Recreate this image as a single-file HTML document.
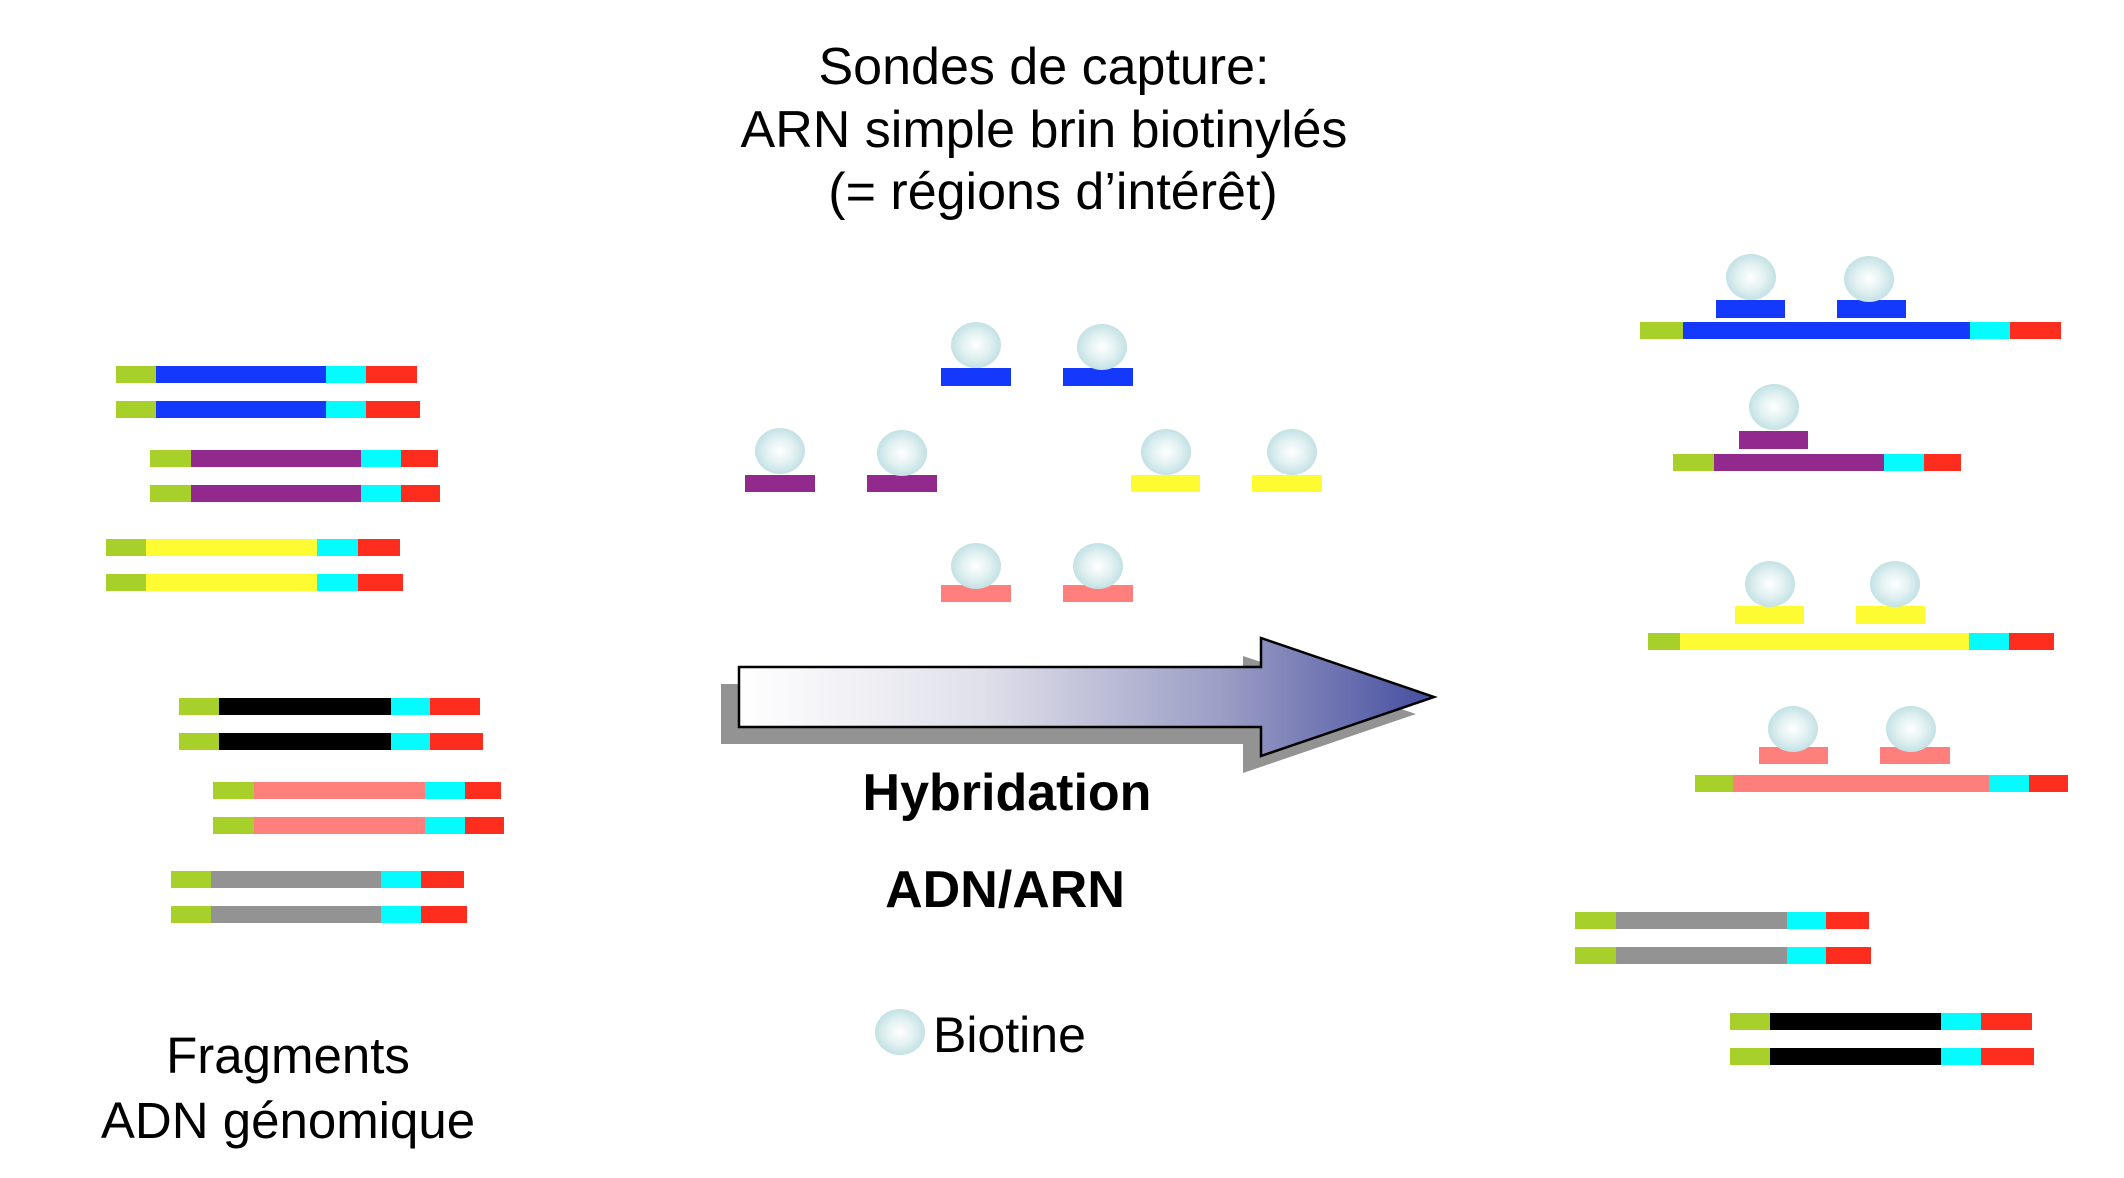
<!DOCTYPE html>
<html><head><meta charset="utf-8"><style>
html,body{margin:0;padding:0;background:#fff;}
svg{display:block;}
text{font-family:"Liberation Sans",Arial,sans-serif;fill:#000;}
</style></head><body>
<svg width="2124" height="1178" viewBox="0 0 2124 1178" xmlns="http://www.w3.org/2000/svg">
<defs>
<radialGradient id="bio" cx="50%" cy="50%" r="50%">
<stop offset="0" stop-color="#ffffff"/>
<stop offset="0.55" stop-color="#e2f1f2"/>
<stop offset="1" stop-color="#c3e1e4"/>
</radialGradient>
<linearGradient id="arr" x1="739" y1="0" x2="1434" y2="0" gradientUnits="userSpaceOnUse">
<stop offset="0" stop-color="#ffffff"/>
<stop offset="0.35" stop-color="#e0e0ea"/>
<stop offset="0.7" stop-color="#9a9cc4"/>
<stop offset="1" stop-color="#454ea0"/>
</linearGradient>
</defs>

<text x="1044" y="84" font-size="52" text-anchor="middle">Sondes de capture:</text>
<text x="1044" y="147" font-size="52" text-anchor="middle">ARN simple brin biotinylés</text>
<text x="1053" y="209" font-size="52" text-anchor="middle">(= régions d’intérêt)</text>

<g>
<rect x="116" y="366" width="40" height="17" fill="#a8d02a"/><rect x="156" y="366" width="170" height="17" fill="#1538fd"/><rect x="326" y="366" width="40" height="17" fill="#05fbfd"/><rect x="366" y="366" width="51" height="17" fill="#ff2d1e"/>
<rect x="116" y="401" width="40" height="17" fill="#a8d02a"/><rect x="156" y="401" width="170" height="17" fill="#1538fd"/><rect x="326" y="401" width="40" height="17" fill="#05fbfd"/><rect x="366" y="401" width="54" height="17" fill="#ff2d1e"/>

<rect x="150" y="450" width="41" height="17" fill="#a8d02a"/><rect x="191" y="450" width="170" height="17" fill="#922a8e"/><rect x="361" y="450" width="40" height="17" fill="#05fbfd"/><rect x="401" y="450" width="37" height="17" fill="#ff2d1e"/>
<rect x="150" y="485" width="41" height="17" fill="#a8d02a"/><rect x="191" y="485" width="170" height="17" fill="#922a8e"/><rect x="361" y="485" width="40" height="17" fill="#05fbfd"/><rect x="401" y="485" width="39" height="17" fill="#ff2d1e"/>

<rect x="106" y="539" width="40" height="17" fill="#a8d02a"/><rect x="146" y="539" width="171" height="17" fill="#fffb33"/><rect x="317" y="539" width="41" height="17" fill="#05fbfd"/><rect x="358" y="539" width="42" height="17" fill="#ff2d1e"/>
<rect x="106" y="574" width="40" height="17" fill="#a8d02a"/><rect x="146" y="574" width="171" height="17" fill="#fffb33"/><rect x="317" y="574" width="41" height="17" fill="#05fbfd"/><rect x="358" y="574" width="45" height="17" fill="#ff2d1e"/>

<rect x="179" y="698" width="40" height="17" fill="#a8d02a"/><rect x="219" y="698" width="172" height="17" fill="#000"/><rect x="391" y="698" width="39" height="17" fill="#05fbfd"/><rect x="430" y="698" width="50" height="17" fill="#ff2d1e"/>
<rect x="179" y="733" width="40" height="17" fill="#a8d02a"/><rect x="219" y="733" width="172" height="17" fill="#000"/><rect x="391" y="733" width="39" height="17" fill="#05fbfd"/><rect x="430" y="733" width="53" height="17" fill="#ff2d1e"/>

<rect x="213" y="782" width="41" height="17" fill="#a8d02a"/><rect x="254" y="782" width="171" height="17" fill="#ff7f7c"/><rect x="425" y="782" width="40" height="17" fill="#05fbfd"/><rect x="465" y="782" width="36" height="17" fill="#ff2d1e"/>
<rect x="213" y="817" width="41" height="17" fill="#a8d02a"/><rect x="254" y="817" width="171" height="17" fill="#ff7f7c"/><rect x="425" y="817" width="40" height="17" fill="#05fbfd"/><rect x="465" y="817" width="39" height="17" fill="#ff2d1e"/>

<rect x="171" y="871" width="40" height="17" fill="#a8d02a"/><rect x="211" y="871" width="170" height="17" fill="#939393"/><rect x="381" y="871" width="40" height="17" fill="#05fbfd"/><rect x="421" y="871" width="43" height="17" fill="#ff2d1e"/>
<rect x="171" y="906" width="40" height="17" fill="#a8d02a"/><rect x="211" y="906" width="170" height="17" fill="#939393"/><rect x="381" y="906" width="40" height="17" fill="#05fbfd"/><rect x="421" y="906" width="46" height="17" fill="#ff2d1e"/>
</g>

<text x="288" y="1073" font-size="51" text-anchor="middle">Fragments</text>
<text x="288" y="1138" font-size="51" text-anchor="middle">ADN génomique</text>

<g>
<rect x="941" y="368" width="70" height="18" fill="#1538fd"/><rect x="1063" y="368" width="70" height="18" fill="#1538fd"/>
<ellipse cx="976" cy="345" rx="25" ry="23" fill="url(#bio)"/><ellipse cx="1102" cy="347" rx="25" ry="23" fill="url(#bio)"/>

<rect x="745" y="475" width="70" height="17" fill="#922a8e"/><rect x="867" y="475" width="70" height="17" fill="#922a8e"/>
<ellipse cx="780" cy="451" rx="25" ry="23" fill="url(#bio)"/><ellipse cx="902" cy="453" rx="25" ry="23" fill="url(#bio)"/>

<rect x="1131" y="475" width="69" height="17" fill="#fffb33"/><rect x="1252" y="475" width="70" height="17" fill="#fffb33"/>
<ellipse cx="1166" cy="452" rx="25" ry="23" fill="url(#bio)"/><ellipse cx="1292" cy="452" rx="25" ry="23" fill="url(#bio)"/>

<rect x="941" y="585" width="70" height="17" fill="#ff7f7c"/><rect x="1063" y="585" width="70" height="17" fill="#ff7f7c"/>
<ellipse cx="976" cy="566" rx="25" ry="23" fill="url(#bio)"/><ellipse cx="1098" cy="566" rx="25" ry="23" fill="url(#bio)"/>
</g>

<polygon points="721,684 1243,684 1243,656 1416,714 1243,773 1243,744 721,744" fill="#939393"/>
<polygon points="739,667 1261,667 1261,638 1434,697 1261,756 1261,727 739,727" fill="url(#arr)" stroke="#000" stroke-width="2.5" stroke-linejoin="miter"/>

<text x="1015" y="810" font-size="52" font-weight="bold" text-anchor="middle" transform="translate(-8,0)">Hybridation</text>
<text x="1013" y="907" font-size="52" font-weight="bold" text-anchor="middle" transform="translate(-8,0)">ADN/ARN</text>

<ellipse cx="900" cy="1032" rx="25" ry="23" fill="url(#bio)"/>
<text x="933" y="1052" font-size="50">Biotine</text>

<g>
<rect x="1640" y="322" width="43" height="17" fill="#a8d02a"/><rect x="1683" y="322" width="287" height="17" fill="#1538fd"/><rect x="1970" y="322" width="40" height="17" fill="#05fbfd"/><rect x="2010" y="322" width="51" height="17" fill="#ff2d1e"/>
<rect x="1716" y="300" width="69" height="18" fill="#1538fd"/><rect x="1837" y="300" width="69" height="18" fill="#1538fd"/>
<ellipse cx="1751" cy="277" rx="25" ry="23" fill="url(#bio)"/><ellipse cx="1869" cy="279" rx="25" ry="23" fill="url(#bio)"/>

<rect x="1673" y="454" width="41" height="17" fill="#a8d02a"/><rect x="1714" y="454" width="170" height="17" fill="#922a8e"/><rect x="1884" y="454" width="40" height="17" fill="#05fbfd"/><rect x="1924" y="454" width="37" height="17" fill="#ff2d1e"/>
<rect x="1739" y="431" width="69" height="18" fill="#922a8e"/>
<ellipse cx="1774" cy="407" rx="25" ry="23" fill="url(#bio)"/>

<rect x="1648" y="633" width="32" height="17" fill="#a8d02a"/><rect x="1680" y="633" width="289" height="17" fill="#fffb33"/><rect x="1969" y="633" width="40" height="17" fill="#05fbfd"/><rect x="2009" y="633" width="45" height="17" fill="#ff2d1e"/>
<rect x="1735" y="606" width="69" height="18" fill="#fffb33"/><rect x="1856" y="606" width="69" height="18" fill="#fffb33"/>
<ellipse cx="1770" cy="584" rx="25" ry="23" fill="url(#bio)"/><ellipse cx="1895" cy="584" rx="25" ry="23" fill="url(#bio)"/>

<rect x="1695" y="775" width="38" height="17" fill="#a8d02a"/><rect x="1733" y="775" width="256" height="17" fill="#ff7f7c"/><rect x="1989" y="775" width="40" height="17" fill="#05fbfd"/><rect x="2029" y="775" width="39" height="17" fill="#ff2d1e"/>
<rect x="1759" y="747" width="69" height="17" fill="#ff7f7c"/><rect x="1880" y="747" width="70" height="17" fill="#ff7f7c"/>
<ellipse cx="1793" cy="729" rx="25" ry="23" fill="url(#bio)"/><ellipse cx="1911" cy="729" rx="25" ry="23" fill="url(#bio)"/>

<rect x="1575" y="912" width="41" height="17" fill="#a8d02a"/><rect x="1616" y="912" width="171" height="17" fill="#939393"/><rect x="1787" y="912" width="39" height="17" fill="#05fbfd"/><rect x="1826" y="912" width="43" height="17" fill="#ff2d1e"/>
<rect x="1575" y="947" width="41" height="17" fill="#a8d02a"/><rect x="1616" y="947" width="171" height="17" fill="#939393"/><rect x="1787" y="947" width="39" height="17" fill="#05fbfd"/><rect x="1826" y="947" width="45" height="17" fill="#ff2d1e"/>

<rect x="1730" y="1013" width="40" height="17" fill="#a8d02a"/><rect x="1770" y="1013" width="171" height="17" fill="#000"/><rect x="1941" y="1013" width="40" height="17" fill="#05fbfd"/><rect x="1981" y="1013" width="51" height="17" fill="#ff2d1e"/>
<rect x="1730" y="1048" width="40" height="17" fill="#a8d02a"/><rect x="1770" y="1048" width="171" height="17" fill="#000"/><rect x="1941" y="1048" width="40" height="17" fill="#05fbfd"/><rect x="1981" y="1048" width="53" height="17" fill="#ff2d1e"/>
</g>
</svg>
</body></html>
